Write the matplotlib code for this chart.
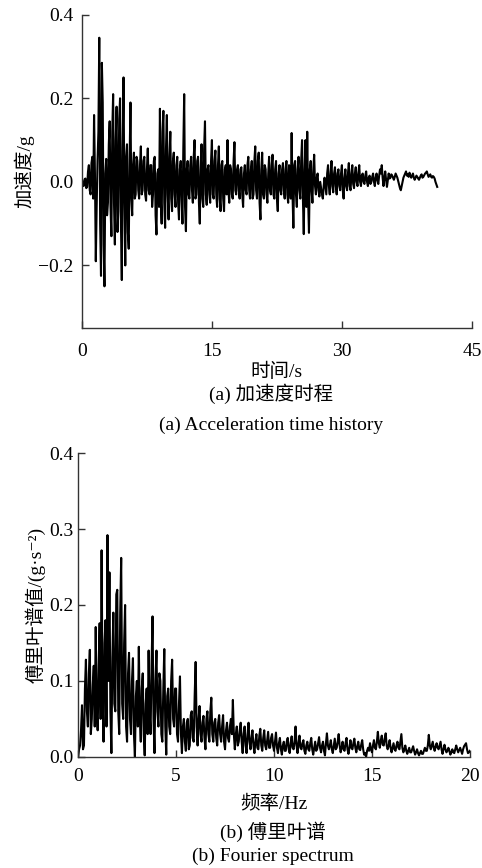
#!/usr/bin/env python3
"""Acceleration time history and Fourier spectrum, two stacked panels"""

import numpy as np
import matplotlib

matplotlib.use("Agg")
import matplotlib.pyplot as plt

plt.rcParams["font.family"] = ["Liberation Serif", "Noto Sans CJK SC", "DejaVu Serif"]
plt.rcParams["axes.unicode_minus"] = True

# ========================================================================
# Data
# ========================================================================
dt = 0.1  # s, sampling step of the digitised record
acc = [
    0.005, -0.004, -0.010, 0.006, 0.008, -0.015, -0.012, 0.025, 0.040, -0.020,
    -0.030, 0.045, 0.060, -0.040, 0.160, 0.020, -0.190, -0.060, 0.050, 0.120,
    0.345, -0.100, -0.225, 0.285, 0.190, -0.150, -0.250, 0.020, 0.055, -0.080,
    -0.050, 0.090, 0.145, -0.060, -0.130, 0.120, 0.210, -0.050, -0.150, 0.100,
    0.180, -0.120, -0.070, 0.150, 0.200, -0.100, -0.235, 0.080, 0.250, -0.050,
    -0.200, 0.060, 0.090, -0.120, -0.160, 0.050, 0.190, -0.040, -0.080, 0.040,
    0.070, -0.040, -0.030, 0.060, 0.050, -0.020, -0.040, 0.040, 0.085, -0.030,
    -0.020, 0.050, 0.060, -0.030, -0.045, 0.030, 0.080, -0.020, -0.030, 0.040,
    0.040, -0.060, -0.030, 0.050, 0.060, -0.080, -0.126, 0.020, 0.030, -0.060,
    0.175, -0.040, -0.100, 0.120, 0.170, -0.050, -0.110, 0.080, 0.160, -0.030,
    -0.090, 0.060, 0.120, -0.040, -0.070, 0.050, 0.070, -0.030, -0.060, 0.040,
    0.060, -0.050, -0.090, 0.030, 0.050, -0.040, -0.100, 0.080, 0.210, -0.060,
    -0.118, 0.030, 0.050, -0.030, -0.040, 0.040, 0.060, -0.020, -0.050, 0.060,
    0.100, -0.040, -0.030, 0.050, 0.060, -0.050, -0.100, 0.030, 0.090, -0.040,
    -0.060, 0.080, 0.145, -0.030, -0.055, 0.030, 0.040, -0.030, -0.050, 0.050,
    0.100, -0.030, -0.040, 0.050, 0.075, -0.030, -0.060, 0.040, 0.085, -0.040,
    -0.070, 0.040, 0.050, -0.040, -0.070, 0.030, 0.040, -0.030, 0.100, -0.020,
    -0.050, 0.040, 0.030, -0.030, -0.040, 0.050, 0.095, -0.020, -0.030, 0.030,
    0.040, -0.020, -0.040, 0.030, 0.035, -0.030, -0.060, 0.020, 0.040, -0.020,
    -0.030, 0.040, 0.060, -0.020, -0.040, 0.030, 0.050, -0.040, -0.030, 0.050,
    0.085, -0.020, -0.040, 0.050, 0.070, -0.050, -0.090, 0.030, 0.070, -0.030,
    -0.040, 0.040, 0.030, -0.030, -0.050, 0.020, 0.060, -0.020, -0.030, 0.040,
    0.065, -0.030, -0.040, 0.030, 0.050, -0.040, -0.070, 0.020, 0.040, -0.020,
    -0.030, 0.030, 0.045, -0.020, -0.040, 0.030, 0.050, -0.030, -0.050, 0.040,
    0.030, -0.040, 0.117, -0.030, -0.110, 0.040, 0.050, -0.030, -0.060, 0.030,
    0.060, -0.020, -0.040, 0.050, 0.100, -0.040, -0.125, 0.030, 0.100, -0.060,
    0.120, -0.040, -0.122, 0.030, 0.050, -0.020, -0.050, 0.030, 0.065, -0.010,
    -0.030, 0.010, 0.020, -0.020, -0.035, 0.000, -0.015, -0.030, -0.040, -0.010,
    0.010, -0.010, -0.030, 0.020, 0.040, -0.010, -0.030, 0.020, 0.050, -0.010,
    -0.025, 0.020, 0.035, -0.010, -0.030, 0.020, 0.030, -0.010, -0.020, 0.020,
    0.040, -0.020, -0.040, 0.010, 0.030, -0.010, -0.020, 0.020, 0.045, -0.010,
    -0.020, 0.020, 0.040, -0.005, -0.015, 0.020, 0.035, 0.000, -0.010, 0.020,
    0.040, 0.000, -0.010, 0.015, 0.020, 0.000, -0.005, 0.015, 0.025, 0.000,
    -0.010, 0.010, 0.015, -0.005, 0.000, 0.012, 0.020, 0.000, -0.010, 0.010,
    0.020, 0.005, -0.005, 0.015, 0.030, 0.020, 0.040, 0.010, -0.010, 0.010,
    0.025, 0.005, -0.012, 0.005, 0.020, 0.008, 0.010, 0.018, 0.015, 0.010,
    0.005, 0.012, 0.020, 0.015, 0.010, 0.002, -0.005, -0.015, -0.020, -0.010,
    0.000, 0.010, 0.015, 0.020, 0.025, 0.015, 0.018, 0.012, 0.022, 0.015,
    0.010, 0.015, 0.020, 0.010, 0.005, 0.010, 0.015, 0.012, 0.008, 0.005,
    0.010, 0.015, 0.018, 0.010, 0.012, 0.016, 0.020, 0.022, 0.025, 0.018,
    0.012, 0.015, 0.018, 0.012, 0.010, 0.014, 0.012, 0.008, 0.000, -0.006,
    -0.012,
]

df = 0.05
fourier = [
    0.000, 0.010, 0.015, 0.035, 0.068, 0.010, 0.015, 0.090, 0.128, 0.060,
    0.040, 0.110, 0.141, 0.030, 0.050, 0.095, 0.120, 0.040, 0.171, 0.060,
    0.035, 0.120, 0.176, 0.050, 0.272, 0.080, 0.020, 0.150, 0.180, 0.040,
    0.292, 0.100, 0.243, 0.060, 0.005, 0.130, 0.190, 0.070, 0.060, 0.214,
    0.220, 0.060, 0.030, 0.190, 0.262, 0.070, 0.050, 0.150, 0.200, 0.040,
    0.020, 0.110, 0.137, 0.050, 0.030, 0.100, 0.130, 0.030, 0.000, 0.080,
    0.100, 0.040, 0.145, 0.050, 0.020, 0.090, 0.110, 0.030, 0.002, 0.070,
    0.090, 0.030, 0.140, 0.060, 0.030, 0.120, 0.185, 0.050, 0.005, 0.100,
    0.140, 0.060, 0.040, 0.110, 0.100, 0.030, 0.020, 0.090, 0.142, 0.040,
    0.003, 0.080, 0.090, 0.040, 0.030, 0.100, 0.128, 0.050, 0.040, 0.090,
    0.090, 0.030, 0.020, 0.070, 0.106, 0.030, 0.005, 0.040, 0.050, 0.020,
    0.008, 0.045, 0.050, 0.010, 0.015, 0.055, 0.060, 0.025, 0.020, 0.080,
    0.125, 0.040, 0.015, 0.050, 0.067, 0.030, 0.020, 0.045, 0.054, 0.025,
    0.010, 0.050, 0.060, 0.030, 0.020, 0.060, 0.078, 0.030, 0.020, 0.045,
    0.050, 0.025, 0.015, 0.045, 0.055, 0.030, 0.020, 0.040, 0.055, 0.020,
    0.010, 0.035, 0.045, 0.025, 0.020, 0.040, 0.050, 0.030, 0.075, 0.030,
    0.010, 0.030, 0.040, 0.015, 0.020, 0.035, 0.045, 0.020, 0.005, 0.030,
    0.040, 0.015, 0.005, 0.030, 0.045, 0.020, 0.010, 0.025, 0.035, 0.015,
    0.005, 0.020, 0.030, 0.012, 0.010, 0.028, 0.037, 0.015, 0.008, 0.025,
    0.035, 0.015, 0.010, 0.022, 0.033, 0.012, 0.012, 0.025, 0.030, 0.015,
    0.008, 0.020, 0.032, 0.012, 0.005, 0.018, 0.025, 0.010, 0.003, 0.015,
    0.020, 0.008, 0.008, 0.020, 0.025, 0.010, 0.005, 0.018, 0.027, 0.012,
    0.010, 0.020, 0.040, 0.015, 0.005, 0.018, 0.028, 0.012, 0.010, 0.018,
    0.022, 0.008, 0.004, 0.015, 0.020, 0.010, 0.008, 0.018, 0.025, 0.010,
    0.003, 0.012, 0.020, 0.008, 0.010, 0.018, 0.026, 0.012, 0.006, 0.015,
    0.020, 0.008, 0.002, 0.018, 0.031, 0.015, 0.010, 0.015, 0.022, 0.010,
    0.005, 0.015, 0.024, 0.010, 0.012, 0.020, 0.030, 0.015, 0.006, 0.012,
    0.020, 0.010, 0.008, 0.018, 0.025, 0.010, 0.004, 0.012, 0.022, 0.012,
    0.010, 0.018, 0.024, 0.012, 0.006, 0.014, 0.020, 0.010, 0.009, 0.016,
    0.022, 0.010, 0.003, 0.005, 0.000, 0.008, 0.012, 0.008, 0.018, 0.010,
    0.006, 0.015, 0.022, 0.012, 0.010, 0.020, 0.033, 0.018, 0.012, 0.022,
    0.028, 0.016, 0.015, 0.024, 0.031, 0.015, 0.010, 0.015, 0.022, 0.012,
    0.006, 0.012, 0.018, 0.010, 0.008, 0.015, 0.020, 0.012, 0.010, 0.020,
    0.030, 0.012, 0.006, 0.010, 0.015, 0.008, 0.004, 0.008, 0.012, 0.006,
    0.006, 0.010, 0.014, 0.008, 0.003, 0.006, 0.010, 0.005, 0.002, 0.005,
    0.008, 0.004, 0.004, 0.008, 0.012, 0.008, 0.008, 0.015, 0.029, 0.015,
    0.010, 0.015, 0.020, 0.012, 0.008, 0.014, 0.018, 0.012, 0.010, 0.015,
    0.020, 0.010, 0.004, 0.010, 0.016, 0.010, 0.006, 0.008, 0.012, 0.008,
    0.003, 0.006, 0.010, 0.006, 0.005, 0.010, 0.015, 0.010, 0.006, 0.009,
    0.012, 0.008, 0.004, 0.010, 0.014, 0.016, 0.018, 0.010, 0.005, 0.006,
    0.008,
]

time_ticks = [0, 15, 30, 45]
acc_ticks = [-0.2, 0.0, 0.2, 0.4]
acc_ticklabels = ["\u22120.2", "0.0", "0.2", "0.4"]
freq_ticks = [0, 5, 10, 15, 20]
four_ticks = [0.0, 0.1, 0.2, 0.3, 0.4]
four_ticklabels = ["0.0", "0.1", "0.2", "0.3", "0.4"]

FS = 14


# ========================================================================
# Plotting
# ========================================================================
def style_axes(ax, xpad, ypad):
    for side in ["top", "right"]:
        ax.spines[side].set_visible(False)
    for side in ["left", "bottom"]:
        ax.spines[side].set_linewidth(1.0)
        ax.spines[side].set_color("#333333")
    ax.tick_params(axis="both", direction="in", length=5, width=1.0,
                   colors="#333333", labelcolor="black", labelsize=FS)
    ax.tick_params(axis="y", pad=ypad)
    ax.tick_params(axis="x", pad=xpad)


fig = plt.figure(figsize=(4.82, 8.68), dpi=100)

# (a) acceleration time history
t = np.arange(len(acc)) * dt
ax0 = fig.add_axes([0.170, 0.622, 0.809, 0.361])
ax0.plot(t, acc, color="black", lw=1.5)
ax0.set_xlim(0, 45)
ax0.set_ylim(-0.35, 0.4)
ax0.set_xticks(time_ticks)
ax0.set_yticks(acc_ticks)
ax0.set_yticklabels(acc_ticklabels)
style_axes(ax0, 11, 6)
ax0.set_xlabel("时间/s", fontsize=FS, labelpad=2)
ax0.set_ylabel("加速度/g", fontsize=FS, labelpad=3)
fig.text(0.562, 1 - 394 / 868, "(a) 加速度时程", ha="center", va="center", fontsize=FS)
fig.text(0.562, 1 - 425 / 868, "(a) Acceleration time history", ha="center",
         va="center", fontsize=FS)

# (b) Fourier spectrum
f = np.arange(len(fourier)) * df
ax1 = fig.add_axes([0.162, 0.128, 0.813, 0.350])
ax1.plot(f, fourier, color="black", lw=1.5)
ax1.set_xlim(0, 20)
ax1.set_ylim(0, 0.4)
ax1.set_xticks(freq_ticks)
ax1.set_yticks(four_ticks)
ax1.set_yticklabels(four_ticklabels)
style_axes(ax1, 8, 3)
ax1.set_xlabel("频率/Hz", fontsize=FS, labelpad=7)
ax1.set_ylabel("傅里叶谱值/(g·s⁻²)", fontsize=FS, labelpad=3)
fig.text(0.566, 1 - 832 / 868, "(b) 傅里叶谱", ha="center", va="center", fontsize=FS)
fig.text(0.566, 1 - 856 / 868, "(b) Fourier spectrum", ha="center", va="center",
         fontsize=FS)

fig.savefig("out.png", dpi=100)
